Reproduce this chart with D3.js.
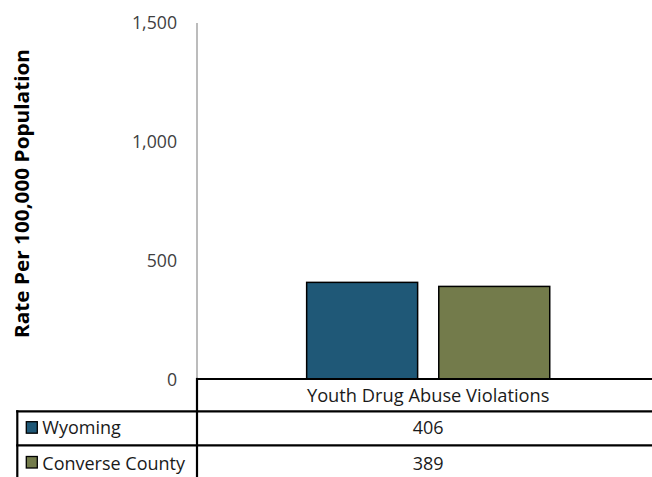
<!DOCTYPE html>
<html>
<head>
<meta charset="utf-8">
<script src="https://cdn.jsdelivr.net/npm/d3@7"></script>
<style>
  html, body { margin: 0; padding: 0; background: #fff; }
  svg { display: block; font-family: "Open Sans", sans-serif; }
</style>
</head>
<body>
<svg id="chart" width="652" height="477"></svg>
<script>
const categories = ["Youth Drug Abuse Violations"];
const seriesNames = ["Wyoming", "Converse County"];
const wyomingValues = [406];
const converseValues = [389];
const seriesColors = ["#1f5877", "#737b4b"];
const yTicks = [0, 500, 1000, 1500];
const yTitle = "Rate Per 100,000 Population";

const seriesValues = [wyomingValues, converseValues];

const svg = d3.select("#chart");
const W = 652, H = 477;
const plotLeft = 197, plotRight = 659.4, plotTop = 22, plotBottom = 379;

const y = d3.scaleLinear().domain([0, 1500]).range([plotBottom, plotTop]);
const x0 = d3.scaleBand().domain(categories).range([plotLeft, plotRight]);
const x1 = d3.scaleBand().domain(seriesNames).range([0, x0.bandwidth()])
  .paddingInner(0.16).paddingOuter(0.83);

// y axis line
svg.append("line")
  .attr("x1", plotLeft).attr("x2", plotLeft)
  .attr("y1", y(1500) + 1).attr("y2", plotBottom)
  .attr("stroke", "#a6a6a6").attr("stroke-width", 1.5);

// y tick labels
const yAxis = d3.axisLeft(y).tickValues(yTicks).tickFormat(d3.format(",")).tickSize(0).tickPadding(20);
const gy = svg.append("g").attr("transform", `translate(${plotLeft},0)`).call(yAxis);
gy.select(".domain").remove();
gy.selectAll("text")
  .attr("font-family", "Open Sans, sans-serif")
  .attr("font-size", 17.7).attr("fill", "#404040")
  .attr("dy", "0.37em");

// y title
svg.append("text")
  .attr("transform", `translate(28.5,193.5) rotate(-90)`)
  .attr("text-anchor", "middle")
  .attr("font-size", 19).attr("font-weight", "bold").attr("fill", "#000")
  .attr("textLength", 289).attr("lengthAdjust", "spacingAndGlyphs")
  .text(yTitle);

// bars
categories.forEach((cat, ci) => {
  seriesNames.forEach((s, si) => {
    const v = seriesValues[si][ci];
    svg.append("rect")
      .attr("x", x0(cat) + x1(s))
      .attr("y", y(v))
      .attr("width", x1.bandwidth())
      .attr("height", plotBottom - y(v))
      .attr("fill", seriesColors[si])
      .attr("stroke", "#000").attr("stroke-width", 1.5);
  });
});

// data table
const tableLeft = 17.3;
const r0 = plotBottom, r1 = 411.3, r2 = 445.3;
const lineAttrs = sel => sel.attr("stroke", "#000").attr("stroke-width", 2.2);

svg.append("line").attr("x1", plotLeft).attr("x2", W + 5).attr("y1", r0).attr("y2", r0).call(lineAttrs);
svg.append("line").attr("x1", tableLeft - 1.1).attr("x2", W + 5).attr("y1", r1).attr("y2", r1).call(lineAttrs);
svg.append("line").attr("x1", tableLeft - 1.1).attr("x2", W + 5).attr("y1", r2).attr("y2", r2).call(lineAttrs);
svg.append("line").attr("x1", plotLeft).attr("x2", plotLeft).attr("y1", r0 - 1.1).attr("y2", H + 5).call(lineAttrs);
svg.append("line").attr("x1", tableLeft).attr("x2", tableLeft).attr("y1", r1 - 1.1).attr("y2", H + 5).call(lineAttrs);

// header
categories.forEach(cat => {
  svg.append("text")
    .attr("x", x0(cat) + x0.bandwidth() / 2)
    .attr("y", 401.7)
    .attr("text-anchor", "middle")
    .attr("font-size", 18.3).attr("fill", "#1a1a1a")
    .text(cat);
});

// rows
const rowBaselines = [434.3, 469.5];
const rowSquareTop = [421.7, 456.5];
seriesNames.forEach((s, si) => {
  const base = rowBaselines[si];
  svg.append("rect")
    .attr("x", 26.3).attr("y", rowSquareTop[si]).attr("width", 11).attr("height", 11.5)
    .attr("fill", seriesColors[si]).attr("stroke", "#000").attr("stroke-width", 1.3);
  svg.append("text")
    .attr("x", 42.3).attr("y", base)
    .attr("font-size", 18).attr("fill", "#1a1a1a")
    .text(s);
  categories.forEach((cat, ci) => {
    svg.append("text")
      .attr("x", x0(cat) + x0.bandwidth() / 2)
      .attr("y", base)
      .attr("text-anchor", "middle")
      .attr("font-size", 18).attr("fill", "#1a1a1a")
      .text(d3.format(",")(seriesValues[si][ci]));
  });
});
</script>
</body>
</html>
